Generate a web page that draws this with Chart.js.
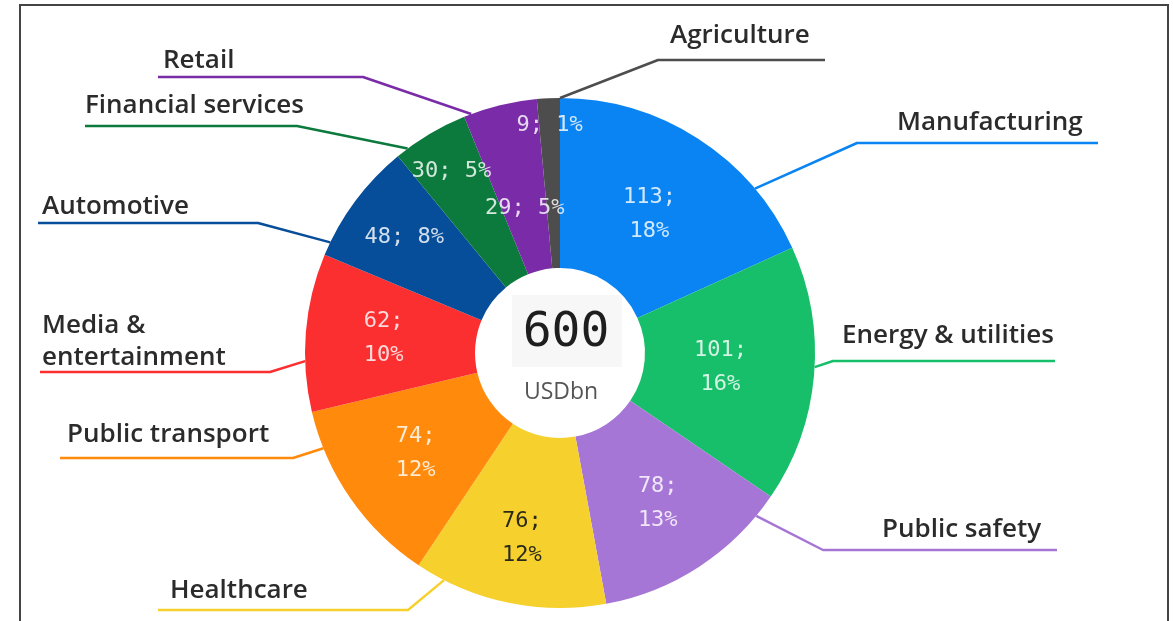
<!DOCTYPE html>
<html>
<head>
<meta charset="utf-8">
<title>Market by sector</title>
<script src="https://cdn.jsdelivr.net/npm/chart.js@4.4.1/dist/chart.umd.min.js"></script>
<style>
  html, body { margin: 0; padding: 0; background: #fff; }
  #wrap { width: 1173px; height: 621px; }
</style>
</head>
<body>
<div id="wrap"><canvas id="chart" width="1173" height="621"></canvas></div>
<script>
// values, clockwise from 12 o'clock
const sectors = ['Manufacturing', 'Energy & utilities', 'Public safety', 'Healthcare', 'Public transport',
  'Media & entertainment', 'Automotive', 'Financial services', 'Retail', 'Agriculture'];
const values = [113, 101, 78, 76, 74, 62, 48, 30, 29, 9];
const shares = [18, 16, 13, 12, 12, 10, 8, 5, 5, 1];
const totalLabel = '600';
const unitLabel = 'USDbn';

const colors = ['#0a84f2', '#17bf6a', '#a676d6', '#f6d12e', '#ff8a0c',
  '#fb2f30', '#064e99', '#0b7a3c', '#7a2ca8', '#4d4d4d'];

// label layout (annotation only): inner label radius, leader attach fraction,
// elbow + end of the leader line, text lines and where the text sits
const layout = [
  { r: 165, split: true,  frac: 0.76, elbow: [857, 143], end: [1098, 143], text: ['Manufacturing'], tx: 897, ty: 130 },
  { r: 161, split: true,  frac: 0.47, elbow: [833, 361], end: [1055, 361], text: ['Energy & utilities'], tx: 842, ty: 343 },
  { r: 179, split: true,  frac: 0.12, elbow: [823, 550], end: [1057, 550], text: ['Public safety'], tx: 882, ty: 537 },
  { r: 189, split: true,  frac: 0.85, elbow: [408, 610], end: [158, 610], text: ['Healthcare'], tx: 170, ty: 598, dark: true },
  { r: 176, split: true,  frac: 0.80, elbow: [293, 458], end: [60, 458], text: ['Public transport'], tx: 67, ty: 442 },
  { r: 177, split: true,  frac: 0.32, elbow: [270, 372], end: [40, 372], text: ['Media &', 'entertainment'], tx: 42, ty: 365 },
  { r: 194, split: false, frac: 0.11, elbow: [258, 223], end: [38, 223], text: ['Automotive'], tx: 42, ty: 214 },
  { r: 212, split: false, frac: 0.16, elbow: [297, 126], end: [85, 126], text: ['Financial services'], tx: 85, ty: 113 },
  { r: 149, split: false, frac: 0.10, elbow: [363, 77], end: [158, 77], text: ['Retail'], tx: 163, ty: 68 },
  { r: 228, split: false, frac: 1.00, elbow: [658, 60], end: [825, 60], text: ['Agriculture'], tx: 670, ty: 43 },
];

const LABEL_FONT = '600 26px "Open Sans", sans-serif';
const VALUE_FONT = '22px "DejaVu Sans Mono", monospace';

const pieLabels = {
  id: 'pieLabels',
  afterDraw(chart) {
    const ctx = chart.ctx;
    const meta = chart.getDatasetMeta(0);
    ctx.save();

    // frame around the figure
    ctx.strokeStyle = '#444';
    ctx.lineWidth = 2;
    ctx.beginPath();
    ctx.moveTo(20, 621); ctx.lineTo(20, 5); ctx.lineTo(1168, 5); ctx.lineTo(1168, 621);
    ctx.stroke();

    meta.data.forEach((arc, i) => {
      const p = arc.getProps(['x', 'y', 'startAngle', 'endAngle', 'outerRadius'], true);
      const L = layout[i];

      // leader line
      const a = p.startAngle + (p.endAngle - p.startAngle) * L.frac;
      const ax = p.x + Math.cos(a) * p.outerRadius;
      const ay = p.y + Math.sin(a) * p.outerRadius;
      ctx.strokeStyle = colors[i];
      ctx.lineWidth = 2.5;
      ctx.lineJoin = 'round';
      ctx.beginPath();
      ctx.moveTo(ax, ay);
      ctx.lineTo(L.elbow[0], L.elbow[1]);
      ctx.lineTo(L.end[0], L.end[1]);
      ctx.stroke();

      // sector name
      ctx.fillStyle = '#2b2b2b';
      ctx.font = LABEL_FONT;
      ctx.textAlign = 'left';
      ctx.textBaseline = 'alphabetic';
      L.text.forEach((t, k) => {
        ctx.fillText(t, L.tx, L.ty - (L.text.length - 1 - k) * 32);
      });

      // value; share inside the slice
      const mid = (p.startAngle + p.endAngle) / 2;
      const cx = p.x + Math.cos(mid) * L.r;
      const cy = p.y + Math.sin(mid) * L.r;
      ctx.fillStyle = L.dark ? '#2a2a1a' : 'rgba(255,255,255,0.82)';
      ctx.font = VALUE_FONT;
      ctx.textAlign = 'center';
      ctx.textBaseline = 'middle';
      if (L.split) {
        ctx.fillText(values[i] + ';', cx, cy - 17);
        ctx.fillText(shares[i] + '%', cx, cy + 17);
      } else {
        ctx.fillText(values[i] + '; ' + shares[i] + '%', cx, cy);
      }
    });

    // centre total
    const c = meta.data[0];
    ctx.fillStyle = '#f7f7f7';
    ctx.fillRect(c.x - 48, c.y - 58, 110, 72);
    ctx.fillStyle = '#1e1e1e';
    ctx.font = '48px "DejaVu Sans Mono", monospace';
    ctx.textAlign = 'center';
    ctx.textBaseline = 'middle';
    ctx.fillText(totalLabel, c.x + 6, c.y - 19);
    ctx.fillStyle = '#555';
    ctx.font = '23px "Open Sans", sans-serif';
    ctx.fillText(unitLabel, c.x + 1, c.y + 39);
    ctx.restore();
  }
};

new Chart(document.getElementById('chart'), {
  type: 'doughnut',
  data: {
    labels: sectors,
    datasets: [{
      data: values,
      backgroundColor: colors,
      borderWidth: 0,
      hoverOffset: 0,
    }],
  },
  options: {
    responsive: false,
    animation: false,
    cutout: 85,
    layout: { padding: { left: 200, right: 253, top: 98, bottom: 13 } },
    plugins: {
      legend: { display: false },
      tooltip: { enabled: false },
    },
  },
  plugins: [pieLabels],
});
</script>
</body>
</html>
